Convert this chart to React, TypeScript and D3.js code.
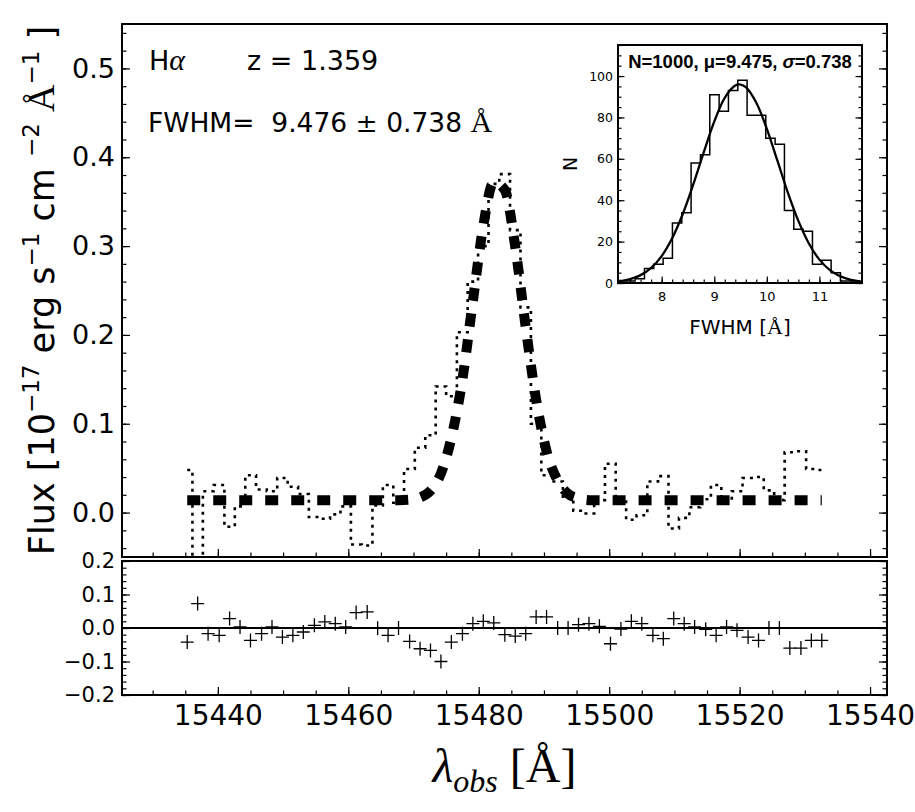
import { useEffect, useRef } from "react";
import * as d3 from "d3";

// spectral pixels, observed wavelength [Å]
const wavelength = [
  15435.3, 15436.9, 15438.5, 15440.2, 15441.8, 15443.4, 15445.0, 15446.7, 15448.3, 15449.9,
  15451.5, 15453.1, 15454.8, 15456.4, 15458.0, 15459.6, 15461.2, 15462.9, 15464.5, 15466.1,
  15467.7, 15469.4, 15471.0, 15472.6, 15474.2, 15475.8, 15477.5, 15479.1, 15480.7, 15482.3,
  15484.0, 15485.6, 15487.2, 15488.8, 15490.4, 15492.1, 15493.7, 15495.3, 15496.9, 15498.5,
  15500.2, 15501.8, 15503.4, 15505.0, 15506.7, 15508.3, 15509.9, 15511.5, 15513.1, 15514.8,
  15516.4, 15518.0, 15519.6, 15521.3, 15522.9, 15524.5, 15526.1, 15527.7, 15529.4, 15531.0,
  15532.6,
];

// observed flux (dotted steps)
const flux = [
  0.048, -0.09, 0.024, 0.031, -0.016, 0.007, 0.042, 0.026, 0.024, 0.039,
  0.029, 0.021, -0.005, -0.007, -0.002, 0.007, -0.036, -0.037, 0.008, 0.031,
  0.011, 0.049, 0.073, 0.087, 0.142, 0.131, 0.203, 0.26, 0.3, 0.37,
  0.381, 0.318, 0.231, 0.1, 0.042, 0.035, 0.018, 0.002, -0.001, 0.014,
  0.055, 0.014, -0.008, -0.003, 0.035, 0.041, -0.018, -0.006, 0.006, 0.015,
  0.031, 0.014, 0.024, 0.039, 0.04, 0.025, 0.014, 0.068, 0.069, 0.049,
  0.048,
];

// gaussian fit (thick dashes)
const fitModel = [
  0.014, 0.014, 0.014, 0.014, 0.014, 0.014, 0.014, 0.014, 0.014, 0.014,
  0.014, 0.014, 0.014, 0.014, 0.014, 0.014, 0.014, 0.014, 0.014, 0.014,
  0.014, 0.0145, 0.017, 0.0245, 0.044, 0.084, 0.15, 0.238, 0.323, 0.372,
  0.363, 0.299, 0.209, 0.127, 0.069, 0.036, 0.021, 0.016, 0.014, 0.014,
  0.014, 0.014, 0.014, 0.014, 0.014, 0.014, 0.014, 0.014, 0.014, 0.014,
  0.014, 0.014, 0.014, 0.014, 0.014, 0.014, 0.014, 0.014, 0.014, 0.014,
  0.014,
];

// residuals (lower panel)
const residual = [
  -0.042, 0.073, -0.017, -0.022, 0.028, 0.003, -0.037, -0.017, 0.003, -0.027,
  -0.022, -0.012, 0.008, 0.018, 0.013, 0.003, 0.046, 0.048, -0.001, -0.022,
  0.0, -0.04, -0.062, -0.067, -0.1, -0.042, -0.017, 0.013, 0.02, 0.015,
  -0.02, -0.024, -0.017, 0.033, 0.033, 0.0, 0.0, 0.01, 0.013, 0.005,
  -0.047, -0.003, 0.02, 0.013, -0.022, -0.032, 0.028, 0.013, 0.003, -0.004,
  -0.022, 0.003, -0.007, -0.027, -0.037, 0.0, 0.0, -0.06, -0.06, -0.037,
  -0.037,
];

// inset: FWHM distribution of 1000 realisations
const fwhmBinEdges = [
  7.14, 7.318, 7.495, 7.673, 7.85, 8.028, 8.205, 8.383, 8.56, 8.738,
  8.915, 9.093, 9.27, 9.448, 9.625, 9.803, 9.98, 10.158, 10.335, 10.513,
  10.69, 10.868, 11.045, 11.223, 11.4, 11.578, 11.755,
];
const fwhmCounts = [
  1, 1, 2, 7, 9, 12, 29, 34, 58, 62, 91, 83, 93, 98, 81, 81, 70, 67, 35, 26, 25, 9, 11, 5, 1, 1,
];
const gaussX = [
  7.2, 7.4, 7.6, 7.8, 8.0, 8.2, 8.4, 8.6, 8.8, 9.0, 9.2, 9.4, 9.5, 9.6, 9.8, 10.0,
  10.2, 10.4, 10.6, 10.8, 11.0, 11.2, 11.4, 11.6, 11.8,
];
const gaussN = [
  0.83, 1.84, 3.8, 7.3, 13.0, 21.6, 33.2, 47.5, 63.1, 78.0, 89.5, 95.4, 95.9, 94.6, 87.1, 74.5,
  59.2, 43.7, 30.0, 19.1, 11.3, 6.25, 3.19, 1.52, 0.67,
];

const xTicks = [15440, 15460, 15480, 15500, 15520, 15540];
const fluxTicks = [0, 0.1, 0.2, 0.3, 0.4, 0.5];
const residTicks = [-0.2, -0.1, 0, 0.1, 0.2];
const insetXTicks = [8, 9, 10, 11];
const insetYTicks = [0, 20, 40, 60, 80, 100];

const FONT = "DejaVu Sans";

const App = () => {
  const svgRef = useRef<SVGSVGElement>(null);

  useEffect(() => {
    const svg = d3.select(svgRef.current);
    svg.selectAll("*").remove();

    const main = { left: 122, right: 887, top: 24, bottom: 557 };
    const res = { top: 561, bottom: 695 };
    const ins = { left: 618, right: 862, top: 45, bottom: 283 };

    const x = d3
      .scaleLinear()
      .domain([wavelength[0] - 10, wavelength[wavelength.length - 1] + 10])
      .range([main.left, main.right]);
    const yFlux = d3.scaleLinear().domain([-0.05, 0.55]).range([main.bottom, main.top]);
    const yRes = d3.scaleLinear().domain([-0.2, 0.2]).range([res.bottom, res.top]);

    svg.append("rect").attr("width", 915).attr("height", 812).attr("fill", "#fff");

    const defs = svg.append("defs");
    defs
      .append("clipPath")
      .attr("id", "clip-main")
      .append("rect")
      .attr("x", main.left)
      .attr("y", main.top)
      .attr("width", main.right - main.left)
      .attr("height", main.bottom - main.top);
    defs
      .append("clipPath")
      .attr("id", "clip-inset")
      .append("rect")
      .attr("x", ins.left)
      .attr("y", ins.top)
      .attr("width", ins.right - ins.left)
      .attr("height", ins.bottom - ins.top);

    const pts = wavelength.map((w, i) => ({ w, f: flux[i], m: fitModel[i], r: residual[i] }));

    // observed spectrum, dotted steps
    svg
      .append("path")
      .datum(pts)
      .attr("clip-path", "url(#clip-main)")
      .attr("fill", "none")
      .attr("stroke", "#000")
      .attr("stroke-width", 2.6)
      .attr("stroke-dasharray", "3 5")
      .attr(
        "d",
        d3
          .line<any>()
          .x((d) => x(d.w))
          .y((d) => yFlux(d.f))
          .curve(d3.curveStep)
      );

    // fit, thick dashes
    svg
      .append("path")
      .datum(pts)
      .attr("clip-path", "url(#clip-main)")
      .attr("fill", "none")
      .attr("stroke", "#000")
      .attr("stroke-width", 10)
      .attr("stroke-dasharray", "13 13")
      .attr(
        "d",
        d3
          .line<any>()
          .x((d) => x(d.w))
          .y((d) => yFlux(d.m))
          .curve(d3.curveMonotoneX)
      );

    // residuals
    svg
      .append("line")
      .attr("x1", main.left)
      .attr("x2", main.right)
      .attr("y1", yRes(0))
      .attr("y2", yRes(0))
      .attr("stroke", "#000")
      .attr("stroke-width", 2);

    svg
      .selectAll(".res")
      .data(pts)
      .enter()
      .append("path")
      .attr("class", "res")
      .attr("transform", (d) => `translate(${x(d.w)},${yRes(d.r)})`)
      .attr("d", "M-6.5,0H6.5M0,-7V7")
      .attr("stroke", "#000")
      .attr("stroke-width", 1.3);

    const addAxis = (axis: any, tx: number, ty: number, size: number, parent: any = svg) => {
      const g = parent.append("g").attr("transform", `translate(${tx},${ty})`).call(axis);
      g.select(".domain").remove();
      g.selectAll("line").attr("stroke", "#000").attr("stroke-width", 1.2);
      g.attr("font-family", FONT).attr("font-size", size);
      return g;
    };
    const none = () => "";

    // main panel ticks
    addAxis(d3.axisLeft(yFlux).tickValues(fluxTicks).tickSize(-8).tickPadding(7).tickFormat(d3.format(".1f") as any), main.left, 0, 27);
    addAxis(d3.axisLeft(yFlux).tickValues(d3.range(-0.04, 0.551, 0.02)).tickSize(-4.5).tickFormat(none), main.left, 0, 10);
    addAxis(d3.axisRight(yFlux).tickValues(fluxTicks).tickSize(-8).tickFormat(none), main.right, 0, 10);
    addAxis(d3.axisRight(yFlux).tickValues(d3.range(-0.04, 0.551, 0.02)).tickSize(-4.5).tickFormat(none), main.right, 0, 10);
    addAxis(d3.axisBottom(x).tickValues(xTicks).tickSize(-8).tickFormat(none), 0, main.bottom, 10);
    addAxis(d3.axisBottom(x).tickValues(d3.range(15430, 15541, 5)).tickSize(-4.5).tickFormat(none), 0, main.bottom, 10);

    // residual panel ticks
    addAxis(d3.axisLeft(yRes).tickValues(residTicks).tickSize(-8).tickPadding(7).tickFormat(d3.format(".1f") as any), main.left, 0, 21);
    addAxis(d3.axisLeft(yRes).tickValues(d3.range(-0.2, 0.201, 0.02)).tickSize(-4.5).tickFormat(none), main.left, 0, 10);
    addAxis(d3.axisRight(yRes).tickValues(residTicks).tickSize(-8).tickFormat(none), main.right, 0, 10);
    addAxis(d3.axisRight(yRes).tickValues(d3.range(-0.2, 0.201, 0.02)).tickSize(-4.5).tickFormat(none), main.right, 0, 10);
    addAxis(d3.axisBottom(x).tickValues(xTicks).tickSize(-8).tickPadding(10).tickFormat(d3.format("d") as any), 0, res.bottom, 28);
    addAxis(d3.axisBottom(x).tickValues(d3.range(15430, 15541, 5)).tickSize(-4.5).tickFormat(none), 0, res.bottom, 10);

    // frames
    svg
      .append("rect")
      .attr("x", main.left)
      .attr("y", main.top)
      .attr("width", main.right - main.left)
      .attr("height", main.bottom - main.top)
      .attr("fill", "none")
      .attr("stroke", "#000")
      .attr("stroke-width", 2);
    svg
      .append("rect")
      .attr("x", main.left)
      .attr("y", res.top)
      .attr("width", main.right - main.left)
      .attr("height", res.bottom - res.top)
      .attr("fill", "none")
      .attr("stroke", "#000")
      .attr("stroke-width", 2);

    // annotations
    const t1 = svg.append("text").attr("x", 149).attr("y", 70).attr("font-family", FONT).attr("font-size", 27);
    t1.append("tspan").text("H");
    t1.append("tspan").attr("font-family", "Liberation Serif").attr("font-style", "italic").attr("font-size", 30).text("α");
    svg.append("text").attr("x", 247).attr("y", 70).attr("font-family", FONT).attr("font-size", 27).text("z = 1.359");

    const t2 = svg
      .append("text")
      .attr("x", 148)
      .attr("y", 132)
      .attr("font-family", FONT)
      .attr("font-size", 26.5)
      .style("white-space", "pre");
    t2.append("tspan").text("FWHM=  9.476 ");
    t2.append("tspan").attr("font-family", "DejaVu Serif").text("±");
    t2.append("tspan").text(" 0.738 ");
    t2.append("tspan").attr("font-family", "Liberation Serif").attr("font-size", 30).text("Å");

    // axis titles
    const yt = svg
      .append("text")
      .attr("transform", `translate(54,${(main.top + main.bottom) / 2}) rotate(-90)`)
      .attr("text-anchor", "middle")
      .attr("font-family", FONT)
      .attr("font-size", 35)
      .style("white-space", "pre");
    yt.append("tspan").text("Flux [10");
    yt.append("tspan").attr("dy", -15).attr("font-size", 23).text("−17");
    yt.append("tspan").attr("dy", 15).text(" erg s");
    yt.append("tspan").attr("dy", -15).attr("font-size", 23).text("−1");
    yt.append("tspan").attr("dy", 15).text(" cm ");
    yt.append("tspan").attr("dy", -15).attr("font-size", 23).text("−2");
    yt.append("tspan").attr("dy", 15).text(" ");
    yt.append("tspan").attr("font-family", "Liberation Serif").attr("font-size", 38).text("Å");
    yt.append("tspan").attr("dy", -15).attr("font-size", 23).text("−1");
    yt.append("tspan").attr("dy", 15).text(" ]");

    const xt = svg
      .append("text")
      .attr("x", (main.left + main.right) / 2)
      .attr("y", 782)
      .attr("text-anchor", "middle")
      .attr("font-family", "Liberation Serif")
      .attr("font-size", 48)
      .style("white-space", "pre");
    xt.append("tspan").attr("font-style", "italic").text("λ");
    xt.append("tspan").attr("font-style", "italic").attr("font-size", 32).attr("dy", 10).text("obs");
    xt.append("tspan").attr("dy", -10).text(" [Å]");

    // inset histogram
    const xi = d3.scaleLinear().domain([7.17, 11.81]).range([ins.left, ins.right]);
    const yi = d3.scaleLinear().domain([0, 115]).range([ins.bottom, ins.top]);
    const gi = svg.append("g");
    gi.append("rect")
      .attr("x", ins.left)
      .attr("y", ins.top)
      .attr("width", ins.right - ins.left)
      .attr("height", ins.bottom - ins.top)
      .attr("fill", "#fff");

    const stepPts: [number, number][] = [[fwhmBinEdges[0], 0]];
    fwhmCounts.forEach((c, i) => {
      stepPts.push([fwhmBinEdges[i], c]);
      stepPts.push([fwhmBinEdges[i + 1], c]);
    });
    stepPts.push([fwhmBinEdges[fwhmBinEdges.length - 1], 0]);

    gi.append("path")
      .datum(stepPts)
      .attr("clip-path", "url(#clip-inset)")
      .attr("fill", "none")
      .attr("stroke", "#000")
      .attr("stroke-width", 1.5)
      .attr(
        "d",
        d3
          .line<[number, number]>()
          .x((d) => xi(d[0]))
          .y((d) => yi(d[1]))
      );

    gi.append("path")
      .datum(gaussX.map((v, i) => [v, gaussN[i]] as [number, number]))
      .attr("clip-path", "url(#clip-inset)")
      .attr("fill", "none")
      .attr("stroke", "#000")
      .attr("stroke-width", 2.3)
      .attr(
        "d",
        d3
          .line<[number, number]>()
          .x((d) => xi(d[0]))
          .y((d) => yi(d[1]))
          .curve(d3.curveCatmullRom)
      );

    addAxis(d3.axisLeft(yi).tickValues(insetYTicks).tickSize(-6.5).tickPadding(5).tickFormat(d3.format("d") as any), ins.left, 0, 12.5, gi);
    addAxis(d3.axisLeft(yi).tickValues(d3.range(0, 116, 5)).tickSize(-3.5).tickFormat(none), ins.left, 0, 10, gi);
    addAxis(d3.axisRight(yi).tickValues(insetYTicks).tickSize(-6.5).tickFormat(none), ins.right, 0, 10, gi);
    addAxis(d3.axisRight(yi).tickValues(d3.range(0, 116, 5)).tickSize(-3.5).tickFormat(none), ins.right, 0, 10, gi);
    addAxis(d3.axisBottom(xi).tickValues(insetXTicks).tickSize(-6.5).tickPadding(9).tickFormat(d3.format("d") as any), 0, ins.bottom, 13, gi);
    addAxis(d3.axisBottom(xi).tickValues(d3.range(7.2, 11.81, 0.2)).tickSize(-3.5).tickFormat(none), 0, ins.bottom, 10, gi);

    gi.append("rect")
      .attr("x", ins.left)
      .attr("y", ins.top)
      .attr("width", ins.right - ins.left)
      .attr("height", ins.bottom - ins.top)
      .attr("fill", "none")
      .attr("stroke", "#000")
      .attr("stroke-width", 2);

    const it = gi
      .append("text")
      .attr("x", (ins.left + ins.right) / 2)
      .attr("y", 68)
      .attr("text-anchor", "middle")
      .attr("font-family", "Liberation Sans")
      .attr("font-weight", "bold")
      .attr("font-size", 18.5);
    it.append("tspan").text("N=1000, μ=9.475, ");
    it.append("tspan").attr("font-style", "italic").text("σ");
    it.append("tspan").text("=0.738");

    const fl = gi
      .append("text")
      .attr("x", (ins.left + ins.right) / 2)
      .attr("y", 334)
      .attr("text-anchor", "middle")
      .attr("font-family", FONT)
      .attr("font-size", 20)
      .style("white-space", "pre");
    fl.append("tspan").text("FWHM [");
    fl.append("tspan").attr("font-family", "Liberation Serif").attr("font-size", 22).text("Å");
    fl.append("tspan").text("]");

    gi.append("text")
      .attr("transform", `translate(577,${(ins.top + ins.bottom) / 2}) rotate(-90)`)
      .attr("text-anchor", "middle")
      .attr("font-family", FONT)
      .attr("font-size", 19)
      .text("N");
  }, []);

  return <svg ref={svgRef} width={915} height={812} style={{ position: "absolute", left: 0, top: 0 }} />;
};

export default App;
